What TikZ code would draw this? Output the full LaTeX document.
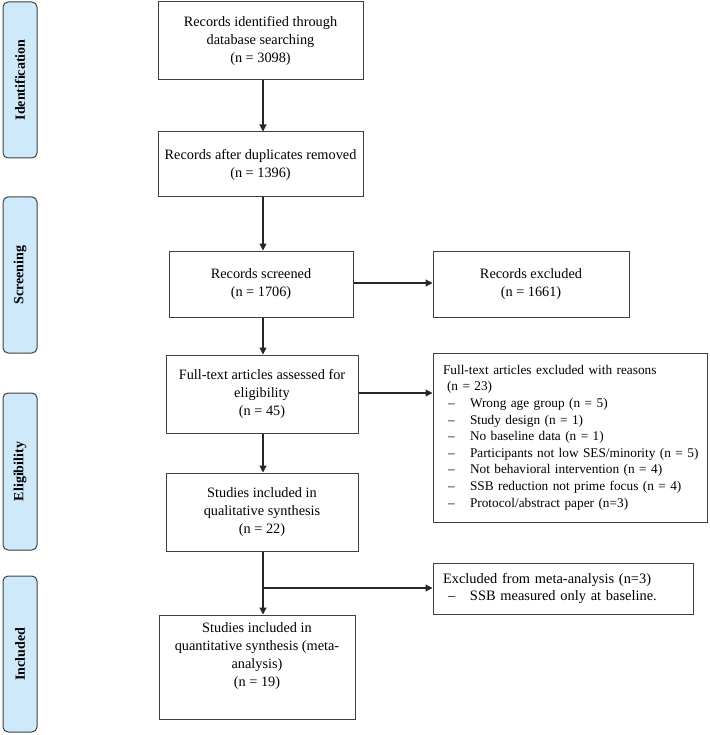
\documentclass[tikz,border=0pt]{standalone}
\usepackage{fontspec}
\setmainfont{Liberation Serif}
\usepackage{tikz}
\usetikzlibrary{arrows.meta}
\usetikzlibrary{positioning}
\definecolor{stageblue}{RGB}{206,234,250}
\tikzset{basic box/.style={draw=black!75,line width=1pt,rectangle,inner sep=0pt}}
\tikzset{flow box/.style={basic box,align=center,font=\fontsize{14.3}{18}\selectfont}}
\tikzset{list box/.style={basic box,align=left,inner xsep=10pt,font=\fontsize{13.3}{16.6}\selectfont}}
\tikzset{flow edge/.style={draw=black!85,line width=1.2pt,-{Triangle[length=7pt,width=7pt]}}}
\newcommand{\exclitem}[1]{\\\hspace*{5pt}\makebox[22pt][l]{\textendash}\mbox{#1}}

\begin{document}
\begin{tikzpicture}
  [
    x=1pt,y=-1pt,
    stage box/.style={basic box,
                      rounded corners=5pt,
                      fill=stageblue,
                      rotate=90,
                      minimum height=34,
                      font=\fontsize{14}{16}\selectfont\bfseries},
  ]
    \useasboundingbox (0,0) rectangle (709,735);

    % stages
    \foreach \i/\l/\y/\h in
      {
        1/Identification/80/156,
        2/Screening/275/156,
        3/Eligibility/471.5/157,
        4/Included/654/156
      }
    {
    \node [stage box, minimum width=\h] (stage\i) at (20,\y) {\l};
    }

    % main boxes
    \node [flow box, minimum width=205, minimum height=78] (ident) at (260.5,41)
      {Records identified through\\database searching\\(n = 3098)};
    \node [flow box, minimum width=205, minimum height=65] (dupl) at (260.5,164.5)
      {Records after duplicates removed\\(n = 1396)};
    \node [flow box, minimum width=184, minimum height=66] (screen) at (261,284)
      {Records screened\\(n = 1706)};
    \node [flow box, minimum width=192, minimum height=78] (fulltext) at (262,394)
      {Full-text articles assessed for\\eligibility\\(n = 45)};
    \node [flow box, minimum width=192, minimum height=78] (qual) at (262,512)
      {Studies included in\\qualitative synthesis\\(n = 22)};
    \node [flow box, minimum width=196, minimum height=104] (quant) at (257,667)
      {Studies included in\\quantitative synthesis (meta-\\analysis)\\(n = 19)\\[6pt]};

    % excluded boxes
    \node [flow box, minimum width=196, minimum height=66] (screenout) at (531,284)
      {Records excluded\\(n = 1661)};
    \node [list box, text width=254, minimum height=169] (fullout) at (570,437.5)
      {Full-text articles excluded with reasons\\\hspace*{4pt}(n = 23)
       \exclitem{Wrong age group (n = 5)}
       \exclitem{Study design (n = 1)}
       \exclitem{No baseline data (n = 1)}
       \exclitem{Participants not low SES/minority (n = 5)}
       \exclitem{Not behavioral intervention (n = 4)}
       \exclitem{SSB reduction not prime focus (n = 4)}
       \exclitem{Protocol/abstract paper (n=3)}};
    \node [list box, text width=240, minimum height=51,
           font=\fontsize{14.4}{17}\selectfont] (metaout) at (563,588.5)
      {Excluded from meta-analysis (n=3)
       \exclitem{SSB measured only at baseline.}};

    % edges
    \coordinate (split) at (263,588);
    \path [flow edge] (ident.south -| split) -- (dupl.north -| split);
    \path [flow edge] (dupl.south -| split) -- (screen.north -| split);
    \path [flow edge] (screen.south -| split) -- (fulltext.north -| split);
    \path [flow edge] (fulltext.south -| split) -- (qual.north -| split);
    \path [flow edge] (qual.south -| split) -- (quant.north -| split);
    \path [flow edge] (screen.east |- 0,283) -- (screenout.west |- 0,283);
    \path [flow edge] (fulltext.east |- 0,393) -- (fullout.west |- 0,393);
    \path [flow edge] (split) -- (metaout.west |- split);

  \end{tikzpicture}
\end{document}
